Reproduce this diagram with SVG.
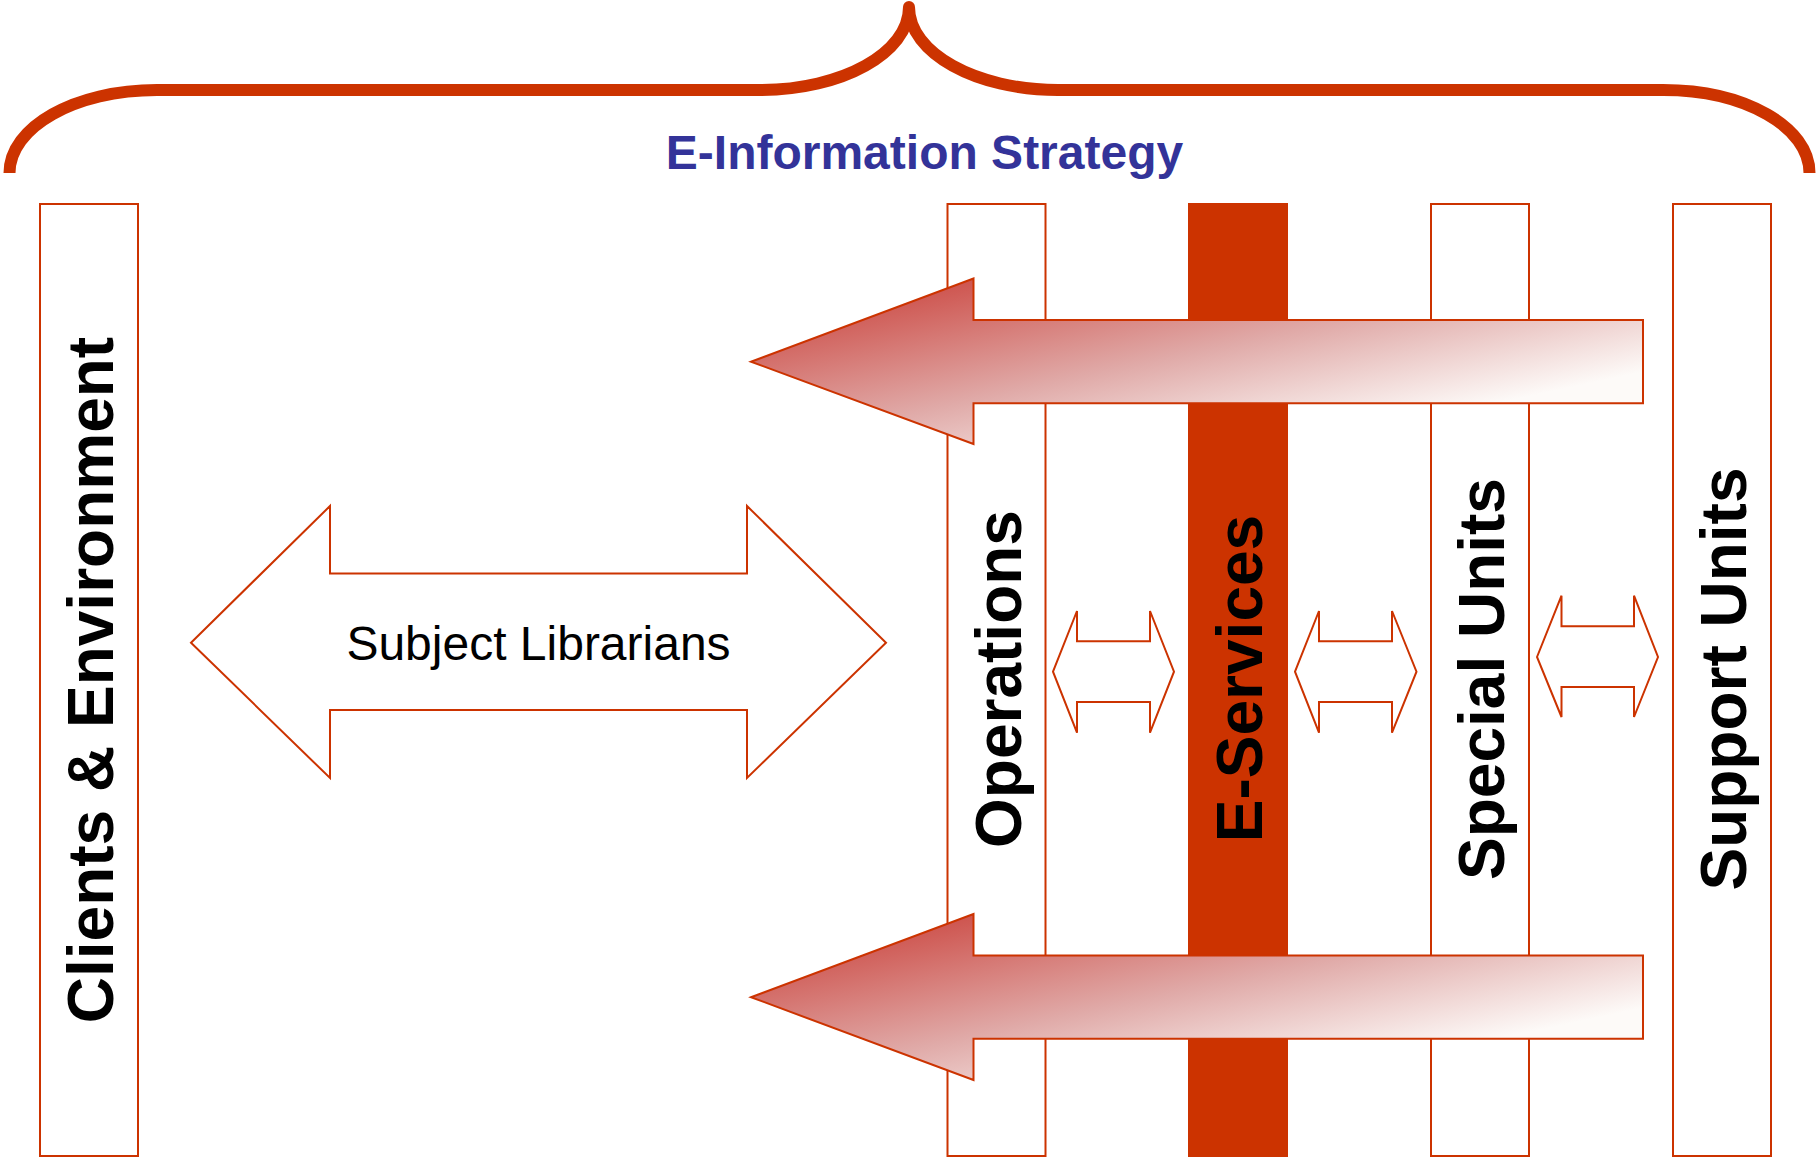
<svg xmlns="http://www.w3.org/2000/svg" width="1816" height="1158" viewBox="0 0 1816 1158">
<style>
.bar{fill:#fff;stroke:#cc3300;stroke-width:2}
.solid{fill:#cc3300}
.dbl{fill:#fff;stroke:#cc3300;stroke-width:2}
.grad{stroke:#cc3300;stroke-width:2}
.v{font-family:"Liberation Sans",Arial,sans-serif;font-weight:700;font-size:64px;fill:#000;text-anchor:middle}
</style>
<defs>
<linearGradient id="g1" gradientUnits="userSpaceOnUse" x1="973" y1="265" x2="1024" y2="504">
<stop offset="0" stop-color="#cc4b45"/>
<stop offset="0.54" stop-color="#e0aaa8"/>
<stop offset="1" stop-color="#fdfaf8"/>
</linearGradient>
<linearGradient id="g2" gradientUnits="userSpaceOnUse" x1="973" y1="901" x2="1024" y2="1140">
<stop offset="0" stop-color="#cc4b45"/>
<stop offset="0.54" stop-color="#e0aaa8"/>
<stop offset="1" stop-color="#fdfaf8"/>
</linearGradient>
</defs>
<rect width="1816" height="1158" fill="#fff"/>
<g id="brace"><path d="M9.5 173C9.5 127 75 90 157 90H760C842 90 909 53 909 7C909 53 976 90 1058 90H1663C1745 90 1809.500 127 1809.500 173" fill="none" stroke="#cc3300" stroke-width="12" stroke-linejoin="round"/></g>
<g id="title"><text x="924.500" y="169" font-family="'Liberation Sans',Arial,sans-serif" font-weight="700" font-size="48" fill="#333399" text-anchor="middle">E-Information Strategy</text></g>
<g id="clients"><rect class="bar" x="40" y="204" width="98" height="952"/><text class="v" transform="translate(112.500 680) rotate(-90)">Clients &amp; Environment</text></g>
<g id="operations"><rect class="bar" x="947.500" y="204" width="98" height="952"/><text class="v" transform="translate(1020.500 679) rotate(-90)">Operations</text></g>
<g id="eservices"><rect class="solid" x="1188" y="203" width="100" height="954"/><text class="v" transform="translate(1262 678.500) rotate(-90)">E-Services</text></g>
<g id="special"><rect class="bar" x="1431" y="204" width="98" height="952"/><text class="v" transform="translate(1504 679) rotate(-90)">Special Units</text></g>
<g id="support"><rect class="bar" x="1673" y="204" width="98" height="952"/><text class="v" transform="translate(1746 679) rotate(-90)">Support Units</text></g>
<g id="connectors">
<path class="grad" fill="url(#g1)" d="M751 361.700L973.500 278.500V320H1643V403.200H973.500V444Z"/>
<path class="grad" fill="url(#g2)" d="M751 997.200L973.500 914V955.500H1643V1038.700H973.500V1080Z"/>
<path class="dbl" d="M191 642.700L330 506V573.500H747V506L886 642.700L747 778V710H330V778Z"/>
<path class="dbl" d="M1053 671.700L1077 611V641.300H1150V611L1174 671.700L1150 732.700V702H1077V732.700Z"/>
<path class="dbl" d="M1295 671.700L1319 611V641.300H1392V611L1416.500 671.700L1392 732.700V702H1319V732.700Z"/>
<path class="dbl" d="M1537 657L1561.500 595.700V626.300H1634V595.700L1658 657L1634 717V687H1561.500V717Z"/>
</g>
<g id="subject"><text x="538.500" y="660" font-family="'Liberation Sans',Arial,sans-serif" font-size="48" fill="#000" text-anchor="middle">Subject Librarians</text></g>
</svg>
